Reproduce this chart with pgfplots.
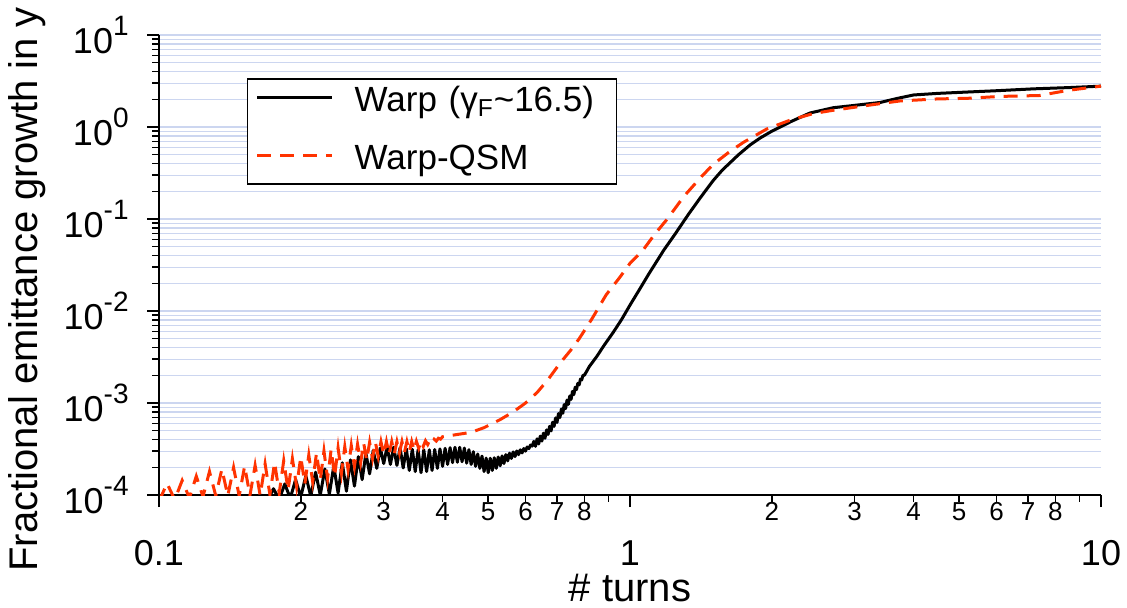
\documentclass[border=0pt]{standalone}
\usepackage{fontspec}
\setmainfont{Liberation Sans}
\usepackage{pgfplots}
\pgfplotsset{compat=1.18}
\definecolor{qsmred}{RGB}{255,51,0}
\definecolor{gridblue}{RGB}{204,214,240}
\newcommand\fs[1]{\fontsize{#1}{#1}\selectfont}
\newcommand\dec[1]{10\raisebox{9pt}{\fs{14pt}#1}}

\begin{document}
\begin{tikzpicture}
\begin{axis}[
  scale only axis, width=471pt, height=230pt,
  xmode=log, ymode=log,
  xmin=0.1, xmax=10, ymin=1e-4, ymax=10,
  axis lines=left,
  axis line style={-, line width=0.75pt},
  tick align=outside,
  tick style={black, line width=0.75pt},
  major tick length=6pt, minor tick length=3.3pt,
  xtick={0.1,1,10}, xticklabels={0.1,1,10},
  minor xtick={0.9,9},
  extra x ticks={0.2,0.3,0.4,0.5,0.6,0.7,0.8,2,3,4,5,6,7,8},
  extra x tick labels={2,3,4,5,6,7,8,2,3,4,5,6,7,8},
  extra x tick style={major tick length=3.5pt, xticklabel shift=0pt,
    xticklabel style={font=\fs{13pt}}},
  xticklabel style={font=\fs{18pt}, inner sep=0pt},
  xticklabel shift=16.5pt,
  ytick={1e-4,1e-3,1e-2,1e-1,1,10},
  yticklabels={\dec{-4},\dec{-3},\dec{-2},\dec{-1},\dec{0},\dec{1}},
  minor ytick={2e-4,3e-4,4e-4,5e-4,6e-4,7e-4,8e-4,9e-4,
    2e-3,3e-3,4e-3,5e-3,6e-3,7e-3,8e-3,9e-3,
    2e-2,3e-2,4e-2,5e-2,6e-2,7e-2,8e-2,9e-2,
    0.2,0.3,0.4,0.5,0.6,0.7,0.8,0.9,2,3,4,5,6,7,8,9},
  yticklabel style={font=\fs{18pt}, inner sep=0pt, anchor=east},
  yticklabel shift=9pt,
  ymajorgrids, yminorgrids,
  major grid style={gridblue, line width=0.6pt},
  minor grid style={gridblue, line width=0.6pt},
  xlabel={\# turns},
  ylabel={Fractional emittance growth in y},
  xlabel style={font=\fs{20pt}, at={(axis description cs:0.5,-0.2304)},
    anchor=base, inner sep=0pt},
  ylabel style={font=\fs{20pt}, at={(axis description cs:-0.12845,-0.1674)},
    anchor=base west, inner sep=0pt},
  legend style={at={(axis description cs:0.0934,0.9065)}, anchor=north west,
    draw=black, line width=0.75pt, fill=white,
    inner xsep=4pt, inner ysep=4pt, row sep=13.5pt, font=\fs{17.5pt},
    nodes={inner sep=0pt, text height=12.5pt, text depth=3pt, text width=127pt},
    /tikz/every odd column/.append style={column sep=10.5pt}},
  legend cell align=left,
  legend image code/.code={\draw[#1] (0pt,2.5pt) -- (37.5pt,2.5pt);},
]
\addplot[black, line width=1.5pt, line join=round, mark=none] coordinates {
(0.165,1.00e-4)(0.170,0.87e-4)(0.175,1.17e-4)(0.180,0.90e-4)(0.185,1.32e-4)(0.190,0.92e-4)
(0.195,1.47e-4)(0.200,0.95e-4)(0.205,1.62e-4)(0.210,0.97e-4)(0.215,1.77e-4)(0.220,1.00e-4)
(0.225,1.92e-4)(0.230,1.02e-4)(0.235,2.07e-4)(0.240,1.05e-4)(0.245,2.24e-4)(0.250,1.10e-4)
(0.255,2.41e-4)(0.260,1.25e-4)(0.265,2.61e-4)(0.270,1.47e-4)(0.275,2.84e-4)(0.280,1.70e-4)
(0.285,3.05e-4)(0.290,1.95e-4)(0.295,3.25e-4)(0.300,2.20e-4)(0.305,3.34e-4)(0.310,2.15e-4)
(0.315,3.31e-4)(0.320,2.10e-4)(0.325,3.26e-4)(0.330,1.97e-4)(0.335,3.19e-4)(0.340,1.85e-4)
(0.345,3.14e-4)(0.350,1.80e-4)(0.355,3.11e-4)(0.360,1.75e-4)(0.365,3.10e-4)(0.370,1.80e-4)
(0.375,3.10e-4)(0.380,1.85e-4)(0.385,3.12e-4)(0.390,1.95e-4)(0.395,3.17e-4)(0.400,2.05e-4)
(0.405,3.22e-4)(0.410,2.15e-4)(0.415,3.27e-4)(0.420,2.25e-4)(0.425,3.30e-4)(0.430,2.27e-4)
(0.435,3.30e-4)(0.440,2.30e-4)(0.445,3.24e-4)(0.450,2.22e-4)(0.455,3.11e-4)(0.460,2.15e-4)
(0.465,2.96e-4)(0.470,2.05e-4)(0.475,2.79e-4)(0.480,1.95e-4)(0.485,2.65e-4)(0.490,1.80e-4)
(0.495,2.52e-4)(0.500,1.75e-4)(0.505,2.51e-4)(0.510,1.85e-4)(0.515,2.54e-4)(0.520,1.95e-4)
(0.525,2.59e-4)(0.530,2.08e-4)(0.535,2.66e-4)(0.540,2.20e-4)(0.545,2.75e-4)(0.550,2.35e-4)
(0.555,2.85e-4)(0.560,2.50e-4)(0.565,2.94e-4)(0.570,2.62e-4)(0.575,3.01e-4)(0.580,2.75e-4)
(0.585,3.10e-4)(0.590,2.87e-4)(0.595,3.20e-4)(0.600,3.00e-4)(0.605,3.33e-4)(0.610,3.20e-4)
(0.615,3.50e-4)(0.620,3.40e-4)(0.625,3.83e-4)(0.630,3.38e-4)(0.635,4.08e-4)(0.640,3.59e-4)
(0.645,4.37e-4)(0.650,3.86e-4)(0.655,4.70e-4)(0.660,4.14e-4)(0.665,5.10e-4)(0.670,4.55e-4)
(0.675,5.58e-4)(0.680,4.97e-4)(0.685,6.18e-4)(0.690,5.57e-4)(0.695,6.88e-4)(0.700,6.16e-4)
(0.705,7.67e-4)(0.710,6.95e-4)(0.715,8.61e-4)(0.720,7.73e-4)(0.725,9.61e-4)(0.730,8.69e-4)
(0.735,1.077e-3)(0.740,9.66e-4)(0.745,1.193e-3)(0.750,1.097e-3)(0.755,1.338e-3)(0.760,1.234e-3)
(0.765,1.484e-3)(0.770,1.399e-3)(0.775,1.638e-3)(0.780,1.576e-3)(0.785,1.82e-3)(0.790,1.785e-3)
(0.795,2.009e-3)(0.800,1.999e-3)
(0.82,2.5e-3)(0.85,3.2e-3)(0.88,4.2e-3)(0.92,5.8e-3)(0.96,8.1e-3)(1.00,1.16e-2)
(1.05,1.75e-2)(1.10,2.6e-2)(1.18,4.6e-2)(1.25,7.0e-2)(1.33,0.112)(1.41,0.17)
(1.50,0.26)(1.57,0.34)(1.70,0.50)(1.80,0.64)(1.89,0.76)(2.00,0.90)(2.2,1.15)
(2.41,1.42)(2.7,1.62)(3.0,1.72)(3.4,1.85)(3.7,2.05)(4.0,2.23)(4.5,2.32)
(5.2,2.4)(6.0,2.48)(7.2,2.6)(8.5,2.68)(10,2.78)
};
\addlegendentry{Warp (γ\textsubscript{F}\textasciitilde 16.5)}
\addplot[qsmred, line width=1.5pt, dash pattern=on 7pt off 4.5pt, mark=none] coordinates {
(0.100,0.85e-4)(0.104,1.34e-4)(0.108,0.89e-4)(0.112,1.44e-4)(0.116,0.93e-4)(0.120,1.6e-4)
(0.124,0.96e-4)(0.128,1.8e-4)(0.132,0.98e-4)(0.136,1.91e-4)(0.140,0.98e-4)(0.144,1.99e-4)
(0.148,0.98e-4)(0.152,2.06e-4)(0.156,0.99e-4)(0.160,2.1e-4)(0.164,0.99e-4)(0.168,2.18e-4)
(0.172,1.01e-4)(0.176,2.26e-4)(0.180,1.05e-4)(0.184,2.36e-4)(0.188,1.13e-4)(0.192,2.48e-4)
(0.196,1.23e-4)(0.200,2.6e-4)(0.204,1.32e-4)(0.208,2.72e-4)(0.212,1.39e-4)(0.216,2.87e-4)
(0.220,1.45e-4)(0.224,3.01e-4)(0.228,1.51e-4)(0.232,3.13e-4)(0.236,1.6e-4)(0.240,3.25e-4)
(0.244,1.73e-4)(0.248,3.35e-4)(0.252,1.89e-4)(0.256,3.45e-4)(0.260,2.05e-4)(0.264,3.56e-4)
(0.268,2.25e-4)(0.272,3.67e-4)(0.276,2.39e-4)(0.280,3.74e-4)(0.284,2.51e-4)(0.288,3.77e-4)
(0.292,2.63e-4)(0.296,3.79e-4)(0.300,2.75e-4)(0.304,3.8e-4)(0.308,2.77e-4)(0.312,3.8e-4)
(0.316,2.83e-4)(0.320,3.8e-4)(0.324,2.87e-4)(0.328,3.8e-4)(0.332,2.91e-4)(0.336,3.8e-4)
(0.340,2.95e-4)(0.344,3.81e-4)(0.348,3.07e-4)(0.352,3.83e-4)(0.356,3.22e-4)(0.360,3.85e-4)
(0.364,3.38e-4)(0.368,3.89e-4)(0.372,3.54e-4)(0.376,3.96e-4)(0.380,3.7e-4)(0.384,4.04e-4)
(0.388,3.86e-4)(0.392,4.14e-4)(0.396,4.05e-4)
(0.40,4.3e-4)(0.43,4.55e-4)(0.46,4.8e-4)(0.49,5.4e-4)(0.53,6.6e-4)(0.565,8.0e-4)
(0.60,1.0e-3)(0.635,1.3e-3)(0.67,1.8e-3)(0.71,2.7e-3)(0.75,3.8e-3)(0.78,5.0e-3)
(0.83,8.2e-3)(0.89,1.5e-2)(0.95,2.3e-2)(1.00,3.3e-2)(1.066,4.6e-2)(1.13,6.9e-2)
(1.20,0.1)(1.30,0.175)(1.41,0.28)(1.50,0.39)(1.62,0.53)(1.74,0.68)(1.95,0.95)
(2.19,1.19)(2.45,1.40)(2.70,1.52)(3.2,1.72)(3.74,1.92)(4.5,2.02)(5.2,2.05)
(6.1,2.15)(7.4,2.2)(8.5,2.5)(10,2.78)
};
\addlegendentry{Warp-QSM}
\end{axis}
\pgfresetboundingbox
\useasboundingbox (-79.5pt,-56pt) rectangle (484pt,247.5pt);
\end{tikzpicture}
\end{document}
